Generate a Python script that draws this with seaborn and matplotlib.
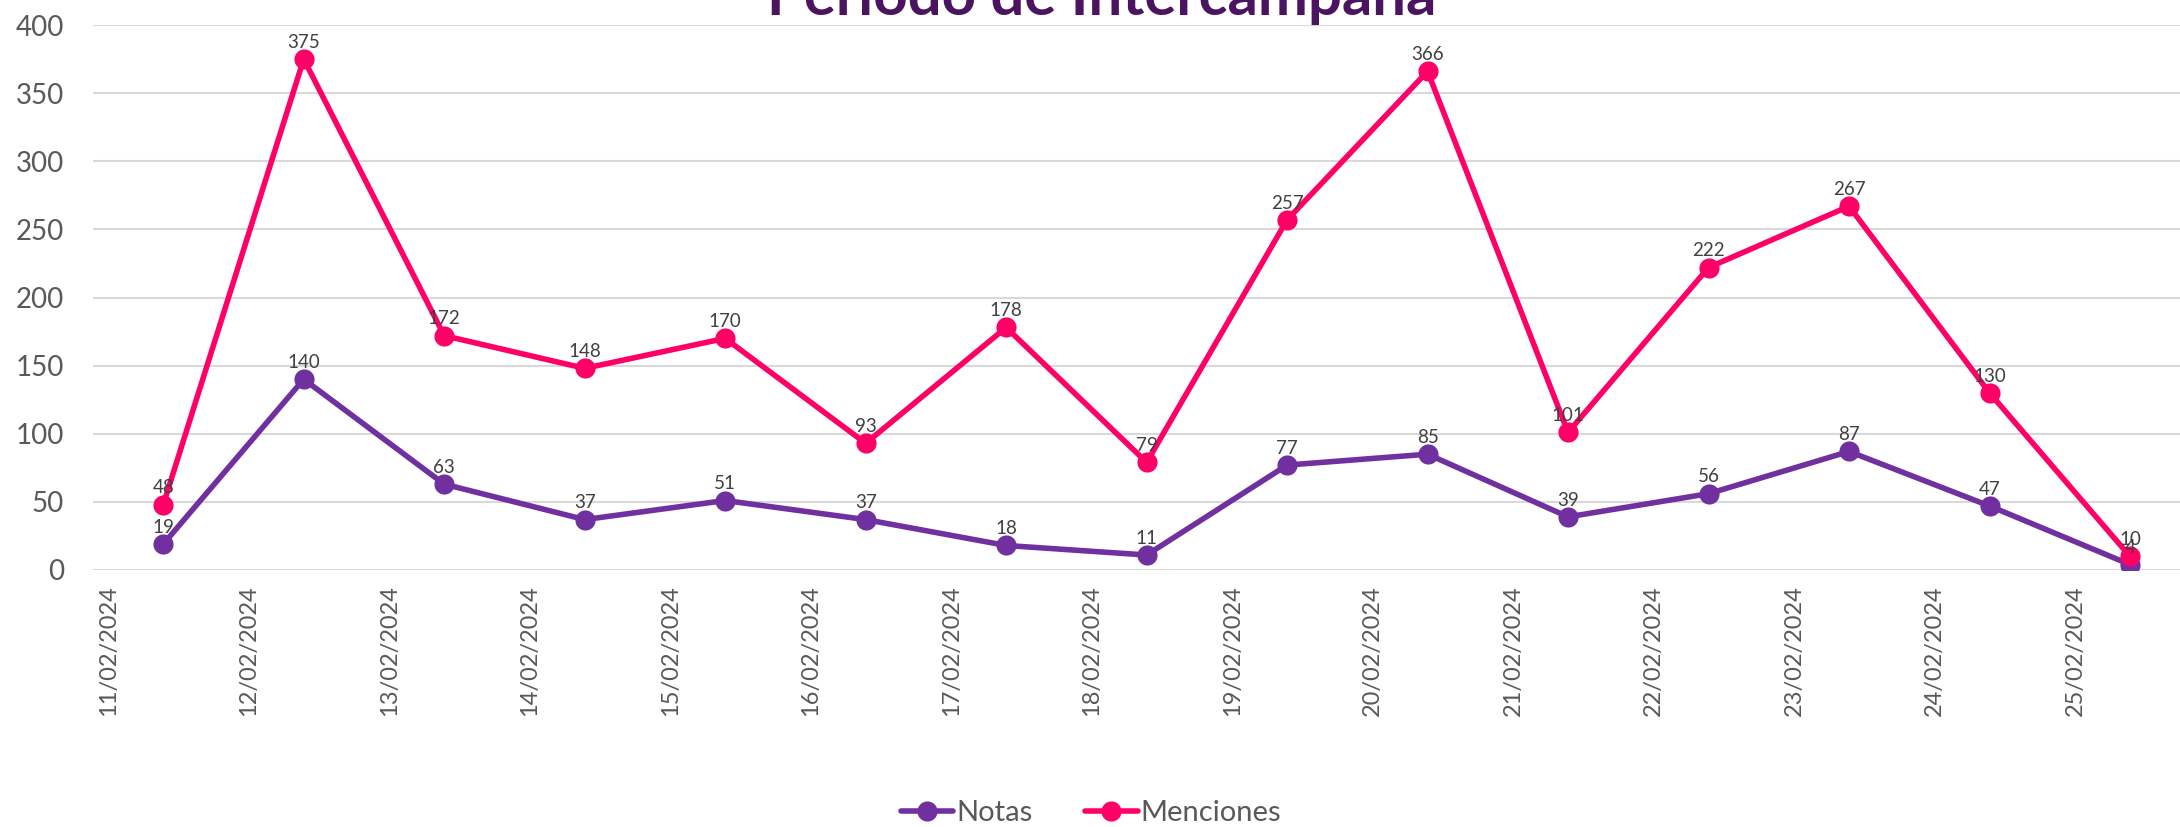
import numpy as np
import pandas as pd
import seaborn as sns
import matplotlib.pyplot as plt

# Datos
fechas = ['11/02/2024', '12/02/2024', '13/02/2024', '14/02/2024', '15/02/2024',
          '16/02/2024', '17/02/2024', '18/02/2024', '19/02/2024', '20/02/2024',
          '21/02/2024', '22/02/2024', '23/02/2024', '24/02/2024', '25/02/2024']
notas = [19, 140, 63, 37, 51, 37, 18, 11, 77, 85, 39, 56, 87, 47, 4]
menciones = [48, 375, 172, 148, 170, 93, 178, 79, 257, 366, 101, 222, 267, 130, 10]

df = pd.DataFrame({'fecha': fechas, 'Notas': notas, 'Menciones': menciones})
df['pos'] = np.arange(len(df))

sns.set_style('white')
plt.rcParams['font.family'] = ['Lato', 'DejaVu Sans']

morado = '#7030A0'
rosa = '#FF0066'
gris = '#595959'

fig = plt.figure(figsize=(21.8, 8.27), dpi=100)
ax = fig.add_axes([93 / 2180, 1 - 570 / 827, 1 - 93 / 2180, (570 - 25) / 827])

for serie, color in [('Notas', morado), ('Menciones', rosa)]:
    sns.lineplot(data=df, x='pos', y=serie, ax=ax, color=color, linewidth=4,
                 marker='o', markersize=14.5, markeredgewidth=0,
                 markeredgecolor=color, label=serie)
    for x, y in zip(df['pos'], df[serie]):
        ax.annotate(str(y), (x, y), xytext=(0, 6), textcoords='offset points',
                    ha='center', va='bottom', fontsize=13.5, color='#404040')

ax.set_ylim(0, 400)
ax.set_xlim(-0.5, 14 + 50 / 140.5)
ax.set_yticks(range(0, 401, 50))
ax.set_xticks(df['pos'] - 0.39)
ax.set_xticklabels(df['fecha'], rotation=90, va='top', ha='center')
ax.tick_params(axis='y', length=0, pad=21, labelsize=20, labelcolor=gris)
ax.tick_params(axis='x', length=0, pad=11, labelsize=17, labelcolor=gris)
ax.yaxis.grid(True, color='#D9D9D9', linewidth=1.5)
ax.set_axisbelow(True)
ax.set_xlabel('')
ax.set_ylabel('')
for s in ax.spines.values():
    s.set_visible(False)

ax.get_legend().remove()
h, l = ax.get_legend_handles_labels()
fig.legend(h, l, loc='center', bbox_to_anchor=(1091 / 2180, 1 - 813 / 827),
           ncol=2, frameon=False, fontsize=21, handlelength=1.8,
           handletextpad=0.1, columnspacing=1.8, labelcolor=gris)

fig.text(1102 / 2180, 1 - 15 / 827, 'Periodo de Intercampaña', ha='center',
         va='baseline', fontsize=43, fontweight='bold', color='#4A1461')

fig.savefig('out.png', dpi=100)
